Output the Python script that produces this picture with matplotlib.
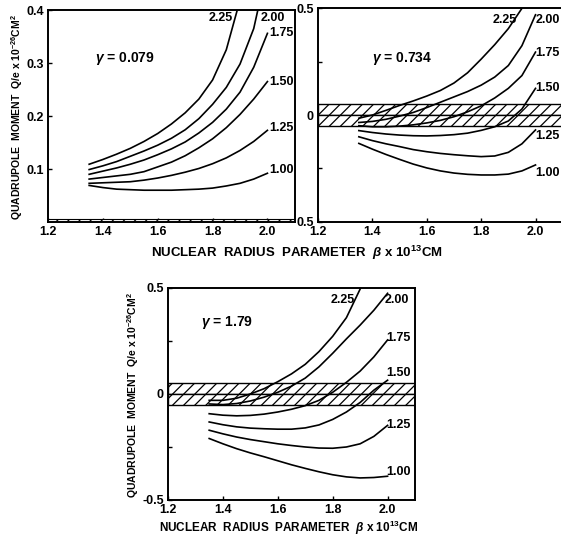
import numpy as np
import matplotlib
matplotlib.use('Agg')
import matplotlib.pyplot as plt

plt.rcParams['font.family'] = ['Liberation Sans', 'DejaVu Sans']
plt.rcParams['mathtext.fontset'] = 'custom'
plt.rcParams['mathtext.rm'] = 'Liberation Sans:bold'
plt.rcParams['mathtext.it'] = 'Liberation Sans:bold:italic'
plt.rcParams['hatch.linewidth'] = 0.9

# 曲线标签 (参数值)
curve_labels = ['1.00', '1.25', '1.50', '1.75', '2.00', '2.25']

beta = [1.35, 1.40, 1.45, 1.50, 1.55, 1.60, 1.65, 1.70, 1.75, 1.80, 1.85, 1.90, 1.95, 2.00]

# gamma = 0.079
q1_100 = [0.069, 0.065, 0.062, 0.061, 0.060, 0.060, 0.060, 0.061, 0.062, 0.064, 0.068, 0.073, 0.081, 0.092]
q1_125 = [0.073, 0.074, 0.075, 0.076, 0.079, 0.083, 0.088, 0.094, 0.101, 0.110, 0.121, 0.135, 0.152, 0.173]
q1_150 = [0.081, 0.084, 0.087, 0.090, 0.095, 0.104, 0.113, 0.125, 0.140, 0.157, 0.178, 0.203, 0.232, 0.265]
q1_175 = [0.090, 0.096, 0.102, 0.109, 0.117, 0.127, 0.138, 0.151, 0.168, 0.188, 0.213, 0.245, 0.292, 0.356]
beta1_200 = [1.35, 1.40, 1.45, 1.50, 1.55, 1.60, 1.65, 1.70, 1.75, 1.80, 1.85, 1.90, 1.95, 1.965]
q1_200 = [0.099, 0.106, 0.114, 0.124, 0.134, 0.145, 0.158, 0.174, 0.195, 0.222, 0.254, 0.298, 0.365, 0.400]
beta1_225 = [1.35, 1.40, 1.45, 1.50, 1.55, 1.60, 1.65, 1.70, 1.75, 1.80, 1.85, 1.89]
q1_225 = [0.109, 0.118, 0.128, 0.139, 0.152, 0.167, 0.185, 0.206, 0.232, 0.268, 0.325, 0.400]

# gamma = 0.734
q2_100 = [-0.133, -0.160, -0.185, -0.208, -0.230, -0.248, -0.262, -0.272, -0.278, -0.281, -0.281, -0.277, -0.262, -0.234]
q2_125 = [-0.102, -0.120, -0.135, -0.148, -0.162, -0.172, -0.180, -0.186, -0.191, -0.195, -0.192, -0.175, -0.135, -0.070]
q2_150 = [-0.073, -0.082, -0.089, -0.094, -0.097, -0.098, -0.096, -0.092, -0.085, -0.072, -0.055, -0.028, 0.028, 0.125]
q2_175 = [-0.050, -0.055, -0.055, -0.052, -0.046, -0.037, -0.025, -0.008, 0.015, 0.043, 0.080, 0.125, 0.185, 0.295]
q2_200 = [-0.035, -0.030, -0.020, -0.005, 0.012, 0.035, 0.060, 0.085, 0.110, 0.140, 0.178, 0.232, 0.325, 0.470]
beta2_225 = [1.35, 1.40, 1.45, 1.50, 1.55, 1.60, 1.65, 1.70, 1.75, 1.80, 1.85, 1.90, 1.95]
q2_225 = [-0.015, 0.000, 0.022, 0.045, 0.066, 0.089, 0.115, 0.150, 0.198, 0.262, 0.330, 0.405, 0.500]

# gamma = 1.79
q3_100 = [-0.210, -0.235, -0.258, -0.278, -0.296, -0.315, -0.334, -0.351, -0.367, -0.381, -0.391, -0.396, -0.394, -0.388]
q3_125 = [-0.171, -0.188, -0.203, -0.215, -0.225, -0.235, -0.243, -0.250, -0.255, -0.256, -0.250, -0.235, -0.200, -0.148]
q3_150 = [-0.132, -0.145, -0.155, -0.161, -0.164, -0.166, -0.166, -0.160, -0.146, -0.120, -0.085, -0.040, 0.018, 0.065]
q3_175 = [-0.093, -0.100, -0.103, -0.101, -0.095, -0.085, -0.072, -0.055, -0.030, 0.008, 0.055, 0.108, 0.175, 0.255]
q3_200 = [-0.047, -0.050, -0.045, -0.033, -0.015, 0.008, 0.037, 0.075, 0.128, 0.192, 0.260, 0.325, 0.395, 0.475]
beta3_225 = [1.35, 1.40, 1.45, 1.50, 1.55, 1.60, 1.65, 1.70, 1.75, 1.80, 1.85, 1.90]
q3_225 = [-0.030, -0.030, -0.020, 0.000, 0.025, 0.058, 0.095, 0.140, 0.200, 0.272, 0.360, 0.495]

xticks = [1.2, 1.4, 1.6, 1.8, 2.0]
xtick_labels = ['1.2', '1.4', '1.6', '1.8', '2.0']

XLABEL = r'NUCLEAR  RADIUS  PARAMETER  $\beta$ x 10$^{13}$CM'
YLABEL = r'QUADRUPOLE  MOMENT  Q/e x 10$^{-26}$CM$^2$'

fig = plt.figure(figsize=(5.61, 5.36), dpi=100)
fig.patch.set_facecolor('white')


def style_axes(ax, ylim, yticks, ylabels):
    ax.set_xlim(1.2, 2.1)
    ax.set_ylim(*ylim)
    ax.set_xticks(xticks)
    ax.set_xticklabels(xtick_labels, fontsize=9, fontweight='bold')
    ax.set_yticks(yticks)
    ax.set_yticklabels(ylabels, fontsize=9, fontweight='bold')
    ax.tick_params(direction='in', length=3, width=1, pad=3)
    for s in ax.spines.values():
        s.set_linewidth(1.4)


def draw_curves(ax, series, labels_pos):
    for (xs, ys), (tx, ty, ha), lab in zip(series, labels_pos, curve_labels):
        ax.plot(xs, ys, color='black', lw=1.2, zorder=3)
        ax.text(tx, ty, lab, ha=ha, va='center', fontsize=9,
                fontweight='bold', zorder=4)


def band(ax, lo, mid, hi):
    ax.axhspan(mid, hi, facecolor='white', edgecolor='black', hatch='///',
               lw=1.0, zorder=2)
    ax.axhspan(lo, mid, facecolor='white', edgecolor='black', hatch='///',
               lw=1.0, zorder=2)


# 面板1
ax1 = fig.add_axes([0.0856, 0.5858, 0.440, 0.3955])
style_axes(ax1, (0, 0.4), [0.1, 0.2, 0.3, 0.4], ['0.1', '0.2', '0.3', '0.4'])
ax1.axhspan(0, 0.006, facecolor='white', edgecolor='black', hatch='///',
            lw=0.8, zorder=2)
draw_curves(ax1,
            [(beta, q1_100), (beta, q1_125), (beta, q1_150), (beta, q1_175),
             (beta1_200, q1_200), (beta1_225, q1_225)],
            [(2.005, 0.098, 'left'), (2.005, 0.177, 'left'), (2.005, 0.264, 'left'),
             (2.005, 0.357, 'left'), (1.975, 0.385, 'left'), (1.875, 0.385, 'right')])
ax1.text(1.37, 0.309, r'$\gamma$ = 0.079', fontsize=10, fontweight='bold', va='center')

# 面板2
ax2 = fig.add_axes([0.567, 0.5864, 0.436, 0.398])
style_axes(ax2, (-0.5, 0.5), [-0.5, -0.25, 0, 0.25, 0.5], ['0.5', '', '0', '', '0.5'])
band(ax2, -0.05, 0.0, 0.05)
draw_curves(ax2,
            [(beta, q2_100), (beta, q2_125), (beta, q2_150), (beta, q2_175),
             (beta, q2_200), (beta2_225, q2_225)],
            [(2.0, -0.27, 'left'), (2.0, -0.10, 'left'), (2.0, 0.127, 'left'),
             (2.0, 0.29, 'left'), (2.0, 0.445, 'left'), (1.93, 0.445, 'right')])
ax2.text(1.40, 0.267, r'$\gamma$ = 0.734', fontsize=10, fontweight='bold', va='center')

fig.text(0.529, 0.528, XLABEL, ha='center', va='center', fontsize=9.5, fontweight='bold')
fig.text(0.031, 0.782, YLABEL, ha='center', va='center', rotation=90,
         fontsize=7.5, fontweight='bold')

# 面板3
ax3 = fig.add_axes([0.2995, 0.0672, 0.4403, 0.3955])
style_axes(ax3, (-0.5, 0.5), [-0.5, -0.25, 0, 0.25, 0.5], ['-0.5', '', '0', '', '0.5'])
band(ax3, -0.05, 0.0, 0.05)
draw_curves(ax3,
            [(beta, q3_100), (beta, q3_125), (beta, q3_150), (beta, q3_175),
             (beta, q3_200), (beta3_225, q3_225)],
            [(1.995, -0.366, 'left'), (1.995, -0.148, 'left'), (1.995, 0.10, 'left'),
             (1.995, 0.265, 'left'), (1.99, 0.444, 'left'), (1.88, 0.444, 'right')])
ax3.text(1.32, 0.335, r'$\gamma$ = 1.79', fontsize=10, fontweight='bold', va='center')

fig.text(0.515, 0.016, XLABEL, ha='center', va='center', fontsize=8.5, fontweight='bold')
fig.text(0.238, 0.263, YLABEL, ha='center', va='center', rotation=90,
         fontsize=7.5, fontweight='bold')

fig.savefig('out.png', dpi=100, facecolor='white')
